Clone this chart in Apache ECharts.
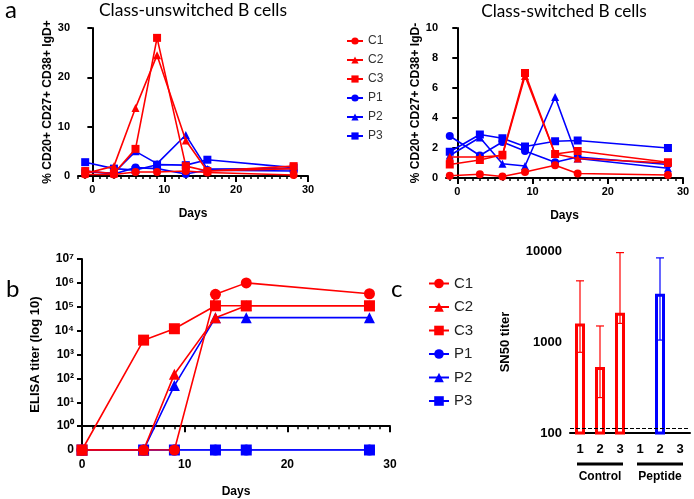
<!DOCTYPE html>
<html><head><meta charset="utf-8">
<script src="https://cdn.jsdelivr.net/npm/echarts@6/dist/echarts.min.js"></script>
<style>html,body{margin:0;padding:0;background:#fff}#c{width:694px;height:499px}</style>
</head><body><div id="c"></div>
<script>
// ---------- data ----------
const seriesNames = ['C1','C2','C3','P1','P2','P3'];
const daysA = [-1, 3, 6, 9, 13, 16, 28];
// class-unswitched (% CD20+ CD27+ CD38+ IgD+)
const unswC1 = [0.3, 0.3, 0.8, 0.8, 1.0, 0.7, 0.2];
const unswC2 = [0.5, 2.0, 13.8, 24.5, 7.2, 1.0, 1.5];
const unswC3 = [1.0, 0.5, 5.5, 28.0, 2.0, 1.0, 2.0];
const unswP1 = [1.0, 0.4, 1.7, 1.5, 0.4, 1.2, 1.0];
const unswP2 = [0.8, 0.6, 5.0, 2.5, 8.3, 1.4, 1.5];
const unswP3 = [2.8, 1.5, 1.2, 2.3, 2.2, 3.3, 1.7];
// class-switched (% CD20+ CD27+ CD38+ IgD-)
const swC1 = [0.15, 0.25, 0.1, 0.4, 0.85, 0.3, 0.2];
const swC2 = [1.4, 1.4, 1.5, 6.8, 1.6, 1.3, 1.0];
const swC3 = [0.9, 1.2, 1.55, 7.0, 1.6, 1.8, 1.05];
const swP1 = [2.8, 1.5, 2.4, 1.8, 1.05, 1.4, 0.9];
const swP2 = [1.5, 2.7, 0.95, 0.8, 5.4, 1.3, 0.65];
const swP3 = [1.75, 2.9, 2.65, 2.1, 2.45, 2.5, 2.0];
// ELISA titers (0 = below detection)
const daysB = [0, 6, 9, 13, 16, 28];
const elisaC1 = [0, 0, 0, 330000, 1000000, 350000];
const elisaC2 = [0, 0, 150, 35000, 110000, 110000];
const elisaC3 = [0, 4000, 12000, 110000, 110000, 110000];
const elisaP1 = [0, 0, 0, 0, 0, 0];
const elisaP2 = [0, 0, 50, 35000, 35000, 35000];
const elisaP3 = [0, 0, 0, 0, 0, 0];
// SN50 neutralisation
const neutCats = ['Control 1','Control 2','Control 3','Peptide 1','Peptide 2','Peptide 3'];
const neutTickLabels = ['1','2','3','1','2','3'];
const neutGroups = ['Control','Peptide'];
const neutMean = [1600, 530, 2100, null, 3400, null];
const neutLow  = [770, 245, 1600, null, 1050, null];
const neutHigh = [4700, 1500, 9600, null, 8400, null];
const detectionLimit = 113;

// ---------- style ----------
const RED = '#ff0000', BLUE = '#0000ff';
const FONT = 'Liberation Sans, Arial, sans-serif';
const TFONT = 'Lato, Open Sans, sans-serif';
const colorOf = n => n[0] === 'C' ? RED : BLUE;
const symbolOf = n => ({'1':'circle','2':'triangle','3':'rect'})[n[1]];
const drawOrder = ['P1','P2','P3','C1','C2','C3'];
const unsw = {C1:unswC1,C2:unswC2,C3:unswC3,P1:unswP1,P2:unswP2,P3:unswP3};
const sw = {C1:swC1,C2:swC2,C3:swC3,P1:swP1,P2:swP2,P3:swP3};
const elisa = {C1:elisaC1,C2:elisaC2,C3:elisaC3,P1:elisaP1,P2:elisaP2,P3:elisaP3};
const toExp = v => v > 0 ? Math.log10(v) : -1;
const sup = {'-':'⁻','0':'⁰','1':'¹','2':'²','3':'³','4':'⁴','5':'⁵','6':'⁶','7':'⁷','8':'⁸','9':'⁹'};

function lineSeries(name, xs, ys, xi, yi, size, transform){
  return {
    type:'line', name, xAxisIndex:xi, yAxisIndex:yi,
    data: xs.map((x,i)=>[x, transform ? transform(ys[i]) : ys[i]]),
    symbol: symbolOf(name), symbolSize: size,
    lineStyle:{color:colorOf(name), width:1.6},
    itemStyle:{color:colorOf(name)},
    animation:false, z: name[0]==='C'?3:2
  };
}

const axisLineStyle = {lineStyle:{color:'#000', width:2}};
const minorTickVals = []; for (let d=-2; d<=30; d++) minorTickVals.push(d);
const majorVals = [0,10,20,30];

function daysAxisPair(gi, min){
  return [
    {gridIndex:gi, type:'value', position:'bottom', min:min, max:30, axisLine:axisLineStyle,
     axisTick:{customValues:majorVals, length:6, lineStyle:{color:'#000', width:2}},
     axisLabel:{customValues:majorVals, color:'#000', fontFamily:FONT, fontWeight:'bold', fontSize:11, margin:8},
     splitLine:{show:false}, name:'Days', nameLocation:'middle', nameGap:32,
     nameTextStyle:{fontFamily:FONT, fontWeight:'bold', fontSize:12, color:'#000'}},
    {gridIndex:gi, type:'value', position:'bottom', min:min, max:30, axisLine:{show:false},
     axisTick:{customValues:minorTickVals.filter(v=>v>=min), length:3, lineStyle:{color:'#000', width:1.5}},
     axisLabel:{show:false}, splitLine:{show:false}}
  ];
}

const series = [];
drawOrder.forEach(n => series.push(lineSeries(n, daysA, unsw[n], 0, 0, 8)));
drawOrder.forEach(n => series.push(lineSeries(n, daysA, sw[n], 2, 1, 8)));
drawOrder.forEach(n => series.push(lineSeries(n, daysB, elisa[n], 4, 2, 11, toExp)));

series.push({
  type:'bar', name:'SN50', xAxisIndex:5, yAxisIndex:3, barWidth:10, animation:false,
  data: neutMean.map((v,i)=> v==null ? '-' : {value:v, itemStyle:{color:'rgba(0,0,0,0)', borderColor: i<3?RED:BLUE, borderWidth:3}}),
  markLine:{silent:true, symbol:'none', animation:false, label:{show:false},
    lineStyle:{type:'dashed', color:'#000', width:1}, data:[{yAxis:detectionLimit}]}
});
series.push({
  type:'custom', name:'err', xAxisIndex:5, yAxisIndex:3, animation:false, z:5,
  data: neutMean.map((v,i)=> v==null ? null : {value:[i, neutLow[i], neutHigh[i]], itemStyle:{color: i<3?RED:BLUE}}).filter(d=>d),
  renderItem(params, api){
    const x = api.value(0);
    const pLo = api.coord([x, api.value(1)]), pHi = api.coord([x, api.value(2)]);
    const c = api.visual('color'); const w = 4;
    const st = {stroke:c, lineWidth:1.2};
    return {type:'group', children:[
      {type:'line', shape:{x1:pLo[0], y1:pLo[1], x2:pHi[0], y2:pHi[1]}, style:st},
      {type:'line', shape:{x1:pLo[0]-w, y1:pLo[1], x2:pLo[0]+w, y2:pLo[1]}, style:st},
      {type:'line', shape:{x1:pHi[0]-w, y1:pHi[1], x2:pHi[0]+w, y2:pHi[1]}, style:st}
    ]};
  }
});

const yTick = {length:5, lineStyle:{color:'#000', width:2}};
const yLab = {color:'#000', fontFamily:FONT, fontWeight:'bold', fontSize:11};
const yName = {fontFamily:FONT, fontWeight:'bold', fontSize:12, color:'#000'};

const option = {
  animation:false,
  grid:[
    {left:78, top:28, width:230, height:148},
    {left:446, top:28, width:237, height:150},
    {left:82, top:259, width:308, height:195},
    {left:570, top:251, width:120, height:182}
  ],
  xAxis:[
    ...daysAxisPair(0, -2),
    ...daysAxisPair(1, -1.5),
    {gridIndex:2, type:'value', position:'bottom', min:0, max:30, interval:10, axisLine:axisLineStyle,
     axisTick:{length:6, lineStyle:{color:'#000', width:2}},
     minorTick:{show:true, splitNumber:10, length:3, lineStyle:{color:'#000', width:1.5}},
     axisLabel:{color:'#000', fontFamily:FONT, fontWeight:'bold', fontSize:12, margin:9},
     splitLine:{show:false}, name:'Days', nameLocation:'middle', nameGap:36,
     nameTextStyle:{fontFamily:FONT, fontWeight:'bold', fontSize:12, color:'#000'}},
    {gridIndex:3, type:'category', position:'bottom', data:neutCats, axisLine:axisLineStyle,
     axisTick:{alignWithLabel:true, length:6, lineStyle:{color:'#000', width:2}},
     axisLabel:{formatter:(v,i)=>neutTickLabels[i], color:'#000', fontFamily:FONT, fontWeight:'bold', fontSize:13, margin:10}}
  ],
  yAxis:[
    {gridIndex:0, type:'value', min:0, max:30, interval:10, axisLine:axisLineStyle, axisTick:yTick,
     axisLabel:yLab, splitLine:{show:false}, name:'% CD20+ CD27+ CD38+ IgD+', nameLocation:'middle', nameGap:17, nameTextStyle:yName},
    {gridIndex:1, type:'value', min:0, max:10, interval:2, axisLine:axisLineStyle, axisTick:yTick,
     axisLabel:yLab, splitLine:{show:false}, name:'% CD20+ CD27+ CD38+ IgD-', nameLocation:'middle', nameGap:20, nameTextStyle:yName},
    {gridIndex:2, type:'value', min:-1, max:7, interval:1, axisLine:axisLineStyle, axisTick:yTick,
     axisLabel:Object.assign({}, yLab, {fontSize:12, formatter:v=> v<0 ? '0' : '10' + String(v).split('').map(c=>sup[c]).join('')}),
     splitLine:{show:false}, name:'ELISA titer (log 10)', nameLocation:'middle', nameGap:40, nameTextStyle:Object.assign({}, yName, {fontSize:13})},
    {gridIndex:3, type:'log', logBase:10, min:100, max:10000, axisLine:axisLineStyle, axisTick:yTick,
     axisLabel:Object.assign({}, yLab, {fontSize:13, formatter:v=>String(Math.round(v))}), splitLine:{show:false},
     name:'SN50 titer', nameLocation:'middle', nameGap:58, nameTextStyle:Object.assign({}, yName, {fontSize:13})}
  ],
  legend:[
    {data:seriesNames, orient:'vertical', left:341, top:30, itemWidth:16, itemHeight:9, itemGap:7,
     textStyle:{fontFamily:FONT, fontSize:12, color:'#333'}, selectedMode:false},
    {data:seriesNames, orient:'vertical', left:423, top:271, itemWidth:20, itemHeight:12, itemGap:8.5,
     textStyle:{fontFamily:FONT, fontSize:15, color:'#222'}, selectedMode:false}
  ],
  series
};

const chart = echarts.init(document.getElementById('c'), null, {renderer:'canvas'});
chart.setOption(option);

// annotations positioned from the axes
const gx = i => chart.convertToPixel({xAxisIndex:5}, i);
const baseY = chart.convertToPixel({yAxisIndex:3}, 100);
const graphics = [
  {type:'text', x:5, y:-2, style:{text:'a', fontFamily:TFONT, fontSize:24, fill:'#000'}},
  {type:'text', x:6, y:277, style:{text:'b', fontFamily:TFONT, fontSize:24, fill:'#000'}},
  {type:'text', x:391, y:277, style:{text:'c', fontFamily:TFONT, fontSize:24, fill:'#000'}},
  {type:'text', x:193, y:1, style:{text:'Class-unswitched B cells', fontFamily:TFONT, fontSize:17.5, fill:'#000', textAlign:'center'}},
  {type:'text', x:564, y:3, style:{text:'Class-switched B cells', fontFamily:TFONT, fontSize:17.2, fill:'#000', textAlign:'center'}}
];
neutGroups.forEach((g, k) => {
  const x1 = gx(k*3) - 3, x2 = gx(k*3+2) + 3;
  graphics.push({type:'line', shape:{x1, y1:baseY+31, x2, y2:baseY+31}, style:{stroke:'#000', lineWidth:3}});
  graphics.push({type:'text', x:(x1+x2)/2, y:baseY+38, style:{text:g, fontFamily:FONT, fontWeight:'bold', fontSize:12, fill:'#000', textAlign:'center'}});
});
chart.setOption({graphic:graphics});
</script></body></html>
